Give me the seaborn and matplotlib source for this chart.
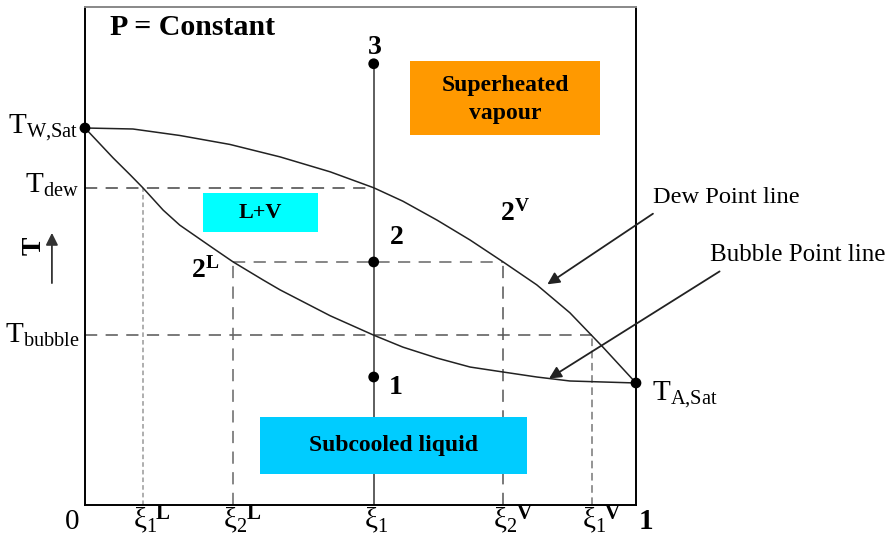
import numpy as np
import pandas as pd
import seaborn as sns
import matplotlib.pyplot as plt
from matplotlib.patches import Rectangle

# curve points (xi = mole fraction, T scaled 0..1)
dew_xi = [0.0, 0.087, 0.172, 0.263, 0.354, 0.445, 0.524, 0.577, 0.639, 0.699, 0.759,
          0.820, 0.880, 0.940, 1.0]
dew_T = [0.757, 0.755, 0.742, 0.724, 0.699, 0.669, 0.637, 0.610, 0.572, 0.532, 0.488,
         0.442, 0.386, 0.317, 0.245]
bubble_xi = [0.0, 0.051, 0.082, 0.105, 0.142, 0.172, 0.232, 0.269, 0.323, 0.354, 0.445,
             0.524, 0.577, 0.639, 0.699, 0.759, 0.820, 0.880, 0.940, 1.0]
bubble_T = [0.757, 0.697, 0.663, 0.637, 0.592, 0.562, 0.516, 0.488, 0.452, 0.432, 0.380,
            0.341, 0.317, 0.295, 0.277, 0.267, 0.257, 0.249, 0.247, 0.245]

# key temperatures / compositions
T_wsat = 0.757
T_asat = 0.245
T_dew = 0.637
T_bubble = 0.341
T_2 = 0.488
xi_1 = 0.524
xi_1L = 0.105
xi_2L = 0.269
xi_2V = 0.759
xi_1V = 0.920

# bottom labels: position, subscript, superscript
xi_pos = [xi_1L, xi_2L, xi_1, xi_2V, xi_1V]
xi_sub = ['1', '2', '1', '2', '1']
xi_sup = ['L', 'L', '', 'V', 'V']

# state points 1, 2, 3 and the two pure saturation points
pt_xi = [0.0, 1.0, xi_1, xi_1, xi_1]
pt_T = [T_wsat, T_asat, 0.886, T_2, 0.257]

dew = pd.DataFrame({'xi': dew_xi, 'T': dew_T})
bubble = pd.DataFrame({'xi': bubble_xi, 'T': bubble_T})
pts = pd.DataFrame({'xi': pt_xi, 'T': pt_T})

sns.set_style('white')
plt.rcParams['font.family'] = ['Liberation Serif', 'DejaVu Serif']
plt.rcParams['text.color'] = 'black'
plt.rcParams['mathtext.fontset'] = 'custom'
plt.rcParams['mathtext.rm'] = 'Liberation Serif'
plt.rcParams['mathtext.it'] = 'Liberation Serif:italic'
plt.rcParams['mathtext.bf'] = 'Liberation Serif:bold'

fig = plt.figure(figsize=(8.87, 5.37), dpi=100)
ax = fig.add_axes([0.0958, 0.0596, 0.6212, 0.9274])

# colored region boxes
ax.add_patch(Rectangle((0.590, 0.743), 0.345, 0.149, color='#ff9900', lw=0, zorder=1))
ax.add_patch(Rectangle((0.214, 0.548), 0.209, 0.079, color='#00ffff', lw=0, zorder=1))
ax.add_patch(Rectangle((0.318, 0.062), 0.484, 0.115, color='#00ccff', lw=0, zorder=3))

# construction lines
dash = (0, (8, 5.5))
ax.plot([0, xi_1], [T_dew, T_dew], color='#444444', lw=1.1, ls=dash, zorder=2)
ax.plot([0, xi_1V], [T_bubble, T_bubble], color='#555555', lw=1.1, ls=dash, zorder=2)
ax.plot([xi_2L, xi_2V], [T_2, T_2], color='#666666', lw=1.1, ls=dash, zorder=2)
ax.plot([xi_1L, xi_1L], [0, T_dew], color='#999999', lw=1.1, ls=(0, (3, 2)), zorder=2)
ax.plot([xi_2L, xi_2L], [0, T_2], color='#666666', lw=1.1, ls=dash, zorder=2)
ax.plot([xi_2V, xi_2V], [0, T_2], color='#555555', lw=1.1, ls=dash, zorder=2)
ax.plot([xi_1V, xi_1V], [0, T_bubble], color='#777777', lw=1.1, ls=(0, (5, 3)), zorder=2)
ax.plot([xi_1, xi_1], [0, 0.886], color='#333333', lw=1.1, zorder=2)

# dew and bubble lines
sns.lineplot(data=dew, x='xi', y='T', sort=False, estimator=None, color='#222222', lw=1.1, ax=ax, zorder=4)
sns.lineplot(data=bubble, x='xi', y='T', sort=False, estimator=None, color='#222222', lw=1.1, ax=ax, zorder=4)
sns.scatterplot(data=pts, x='xi', y='T', color='black', s=60, edgecolor='none', ax=ax, zorder=5, clip_on=False)

ax.set_xlim(0, 1)
ax.set_ylim(0, 1)
ax.set_xticks([])
ax.set_yticks([])
ax.set_xlabel('')
ax.set_ylabel('')
for s in ['left', 'bottom', 'right']:
    ax.spines[s].set_color('black')
    ax.spines[s].set_linewidth(1.4)
ax.spines['top'].set_color('#888888')
ax.spines['top'].set_linewidth(1.4)

# region labels
ax.text(0.045, 0.958, 'P = Constant', fontsize=21.5, fontweight='bold', va='center', ha='left')
ax.text(0.7625, 0.815, 'Superheated\nvapour', fontsize=17, fontweight='bold', ha='center', va='center',
        linespacing=1.45, zorder=6)
ax.text(0.3185, 0.587, 'L+V', fontsize=16, fontweight='bold', ha='center', va='center', zorder=6)
ax.text(0.56, 0.12, 'Subcooled liquid', fontsize=17, fontweight='bold', ha='center', va='center', zorder=6)

# point labels
ax.text(0.526, 0.918, '3', fontsize=20, fontweight='bold', ha='center', va='center')
ax.text(0.566, 0.538, '2', fontsize=20, fontweight='bold', ha='center', va='center')
ax.text(0.563, 0.235, '1', fontsize=20, fontweight='bold', ha='center', va='center')
ax.text(0.218, 0.472, r'$\mathbf{2^{L}}$', fontsize=20, ha='center', va='center')
ax.text(0.78, 0.585, r'$\mathbf{2^{V}}$', fontsize=20, ha='center', va='center')

# temperature labels on the left
ax.text(-0.013, T_wsat, r'$\mathrm{T_{W{,}Sat}}$', fontsize=21, ha='right', va='center')
ax.text(-0.011, T_dew + 0.004, r'$\mathrm{T_{dew}}$', fontsize=21, ha='right', va='center')
ax.text(-0.009, T_bubble, r'$\mathrm{T_{bubble}}$', fontsize=21, ha='right', va='center')
ax.text(-0.092, 0.52, 'T', fontsize=20, fontweight='bold', rotation=90, ha='center', va='center')
ax.annotate('', xy=(-0.06, 0.552), xytext=(-0.06, 0.44), annotation_clip=False,
            arrowprops=dict(arrowstyle='-|>', color='#333333', lw=1.3, mutation_scale=18))

# composition labels along the bottom
ax.text(-0.024, -0.048, '0', fontsize=21, ha='center', va='baseline')
ax.text(1.018, -0.048, '1', fontsize=21, fontweight='bold', ha='center', va='baseline')
for x, sub, sup in zip(xi_pos, xi_sub, xi_sup):
    ax.text(x + 0.004, -0.047, r'$\mathrm{\xi_' + sub + '}$', fontsize=21, ha='center', va='baseline')
    if sup:
        ax.text(x + 0.024, 0.002, sup, fontsize=15, fontweight='bold', ha='left', va='top')

# right side annotations
ax.text(1.029, T_asat - 0.024, r'$\mathrm{T_{A{,}Sat}}$', fontsize=21, ha='left', va='center')
ax.text(1.03, 0.618, 'Dew Point line', fontsize=17.6, ha='left', va='center')
ax.annotate('', xy=(0.835, 0.44), xytext=(1.035, 0.588), annotation_clip=False,
            arrowprops=dict(arrowstyle='-|>', color='#222222', lw=1.3, mutation_scale=18))
ax.text(1.135, 0.502, 'Bubble Point line', fontsize=18, ha='left', va='center')
ax.annotate('', xy=(0.838, 0.251), xytext=(1.156, 0.472), annotation_clip=False,
            arrowprops=dict(arrowstyle='-|>', color='#222222', lw=1.3, mutation_scale=18))

fig.savefig('out.png', dpi=100)
